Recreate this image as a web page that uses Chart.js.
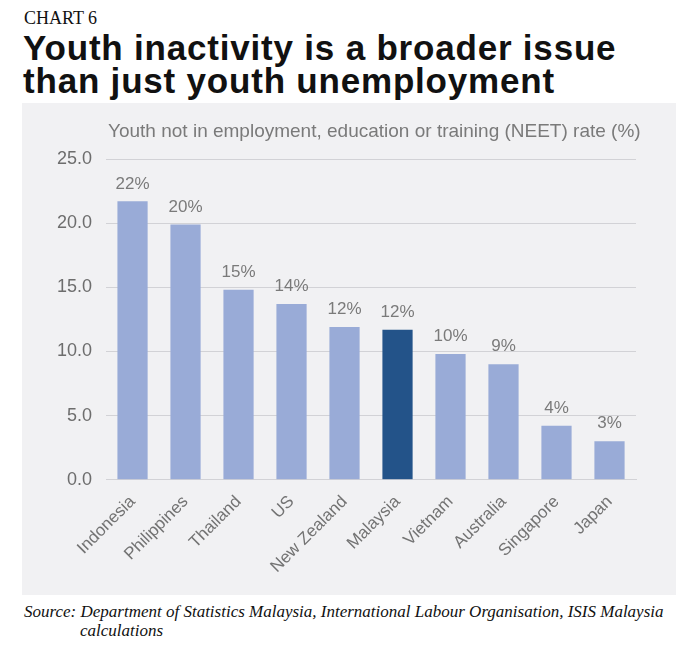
<!DOCTYPE html>
<html lang="en">
<head>
    <meta charset="UTF-8">
    <title>Chart 6 - Youth inactivity</title>
    <script src="https://cdn.jsdelivr.net/npm/chart.js"></script>
    <style>
        * { box-sizing: border-box; }
        body {
            margin: 0; padding: 0;
            width: 700px; height: 650px;
            background: #ffffff;
            overflow: hidden;
        }
        .kicker {
            position: absolute; left: 24px; top: 8px;
            font-family: 'Liberation Serif', serif;
            font-size: 18px; color: #111;
        }
        h1 {
            position: absolute; left: 23px; top: 31px;
            margin: 0;
            font-family: 'Liberation Sans', Arial, sans-serif;
            font-weight: 900; font-size: 35px; line-height: 33px;
            letter-spacing: 0.8px;
            color: #111;
        }
        .panel {
            position: absolute; left: 22px; top: 103px;
            width: 654px; height: 492px;
            background: #f1f1f3;
        }
        .source {
            position: absolute; left: 24px; top: 602px;
            font-family: 'Liberation Serif', serif;
            font-style: italic; font-size: 17px; line-height: 19px;
            color: #111;
        }
        .source .indent { padding-left: 56px; }
    </style>
</head>
<body>
    <div class="kicker">CHART 6</div>
    <h1>Youth inactivity is a broader issue<br>than just youth unemployment</h1>
    <div class="panel"><canvas id="neetChart" width="654" height="492"></canvas></div>
    <div class="source">Source: Department of Statistics Malaysia, International Labour Organisation, ISIS Malaysia<br><span class="indent">calculations</span></div>

    <script>
        const countries = ['Indonesia', 'Philippines', 'Thailand', 'US', 'New Zealand',
                           'Malaysia', 'Vietnam', 'Australia', 'Singapore', 'Japan'];
        const neetRate = [21.7, 19.9, 14.8, 13.7, 11.9, 11.7, 9.8, 9.0, 4.2, 3.0];
        const rateLabels = ['22%', '20%', '15%', '14%', '12%', '12%', '10%', '9%', '4%', '3%'];
        const highlight = 'Malaysia';
        const chartTitle = 'Youth not in employment, education or training (NEET) rate (%)';

        const barLabels = {
            id: 'barLabels',
            afterDatasetsDraw(chart) {
                const ctx = chart.ctx;
                const meta = chart.getDatasetMeta(0);
                ctx.save();
                ctx.font = '17px "Liberation Sans", Arial, sans-serif';
                ctx.fillStyle = '#7a7a7a';
                ctx.textAlign = 'center';
                ctx.textBaseline = 'bottom';
                meta.data.forEach((bar, i) => {
                    ctx.fillText(rateLabels[i], bar.x, bar.y - 9);
                });
                // panel title, aligned with the start of the plot area
                ctx.font = '19px "Liberation Sans", Arial, sans-serif';
                ctx.fillStyle = '#7a7a7a';
                ctx.textAlign = 'left';
                ctx.textBaseline = 'middle';
                ctx.fillText(chartTitle, chart.chartArea.left + 2, 29);
                ctx.restore();
            }
        };

        new Chart(document.getElementById('neetChart'), {
            type: 'bar',
            data: {
                labels: countries,
                datasets: [{
                    data: neetRate,
                    backgroundColor: countries.map(c => c === highlight ? '#235389' : '#99abd7'),
                    barPercentage: 0.57,
                    categoryPercentage: 1.0
                }]
            },
            options: {
                responsive: false,
                animation: false,
                layout: { padding: { left: 21, right: 40, top: 56, bottom: 14 } },
                plugins: {
                    legend: { display: false },
                    tooltip: { enabled: false },
                    title: { display: false }
                },
                scales: {
                    y: {
                        min: 0, max: 25,
                        ticks: {
                            stepSize: 5,
                            color: '#6d6d6d',
                            padding: 14,
                            font: { family: '"Liberation Sans", Arial, sans-serif', size: 18 },
                            callback: v => v.toFixed(1)
                        },
                        grid: { color: '#d2d2d6', drawTicks: false },
                        border: { display: false }
                    },
                    x: {
                        ticks: {
                            color: '#737373',
                            maxRotation: 45, minRotation: 45,
                            padding: 4,
                            font: { family: '"Liberation Sans", Arial, sans-serif', size: 17 }
                        },
                        grid: { display: false },
                        border: { color: '#d2d2d6' }
                    }
                }
            },
            plugins: [barLabels]
        });
    </script>
</body>
</html>
